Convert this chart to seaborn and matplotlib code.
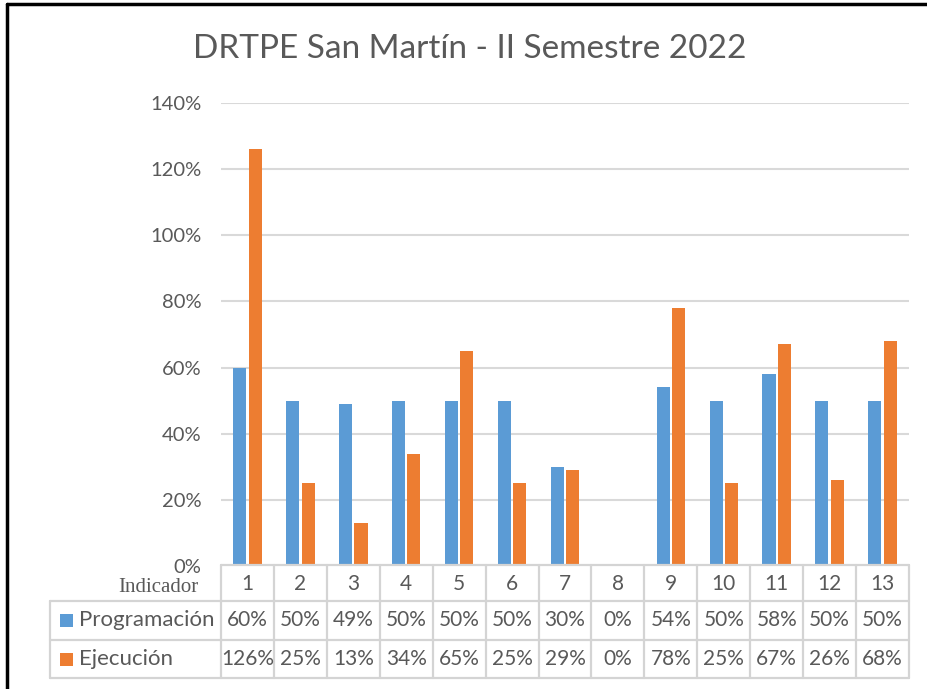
import matplotlib
matplotlib.use("Agg")
import matplotlib.pyplot as plt
import seaborn as sns
import pandas as pd
from matplotlib.lines import Line2D
from matplotlib.patches import Rectangle

# ---- data ----
categories = ["1", "2", "3", "4", "5", "6", "7", "8", "9", "10", "11", "12", "13"]
programacion = [60, 50, 49, 50, 50, 50, 30, 0, 54, 50, 58, 50, 50]
ejecucion = [126, 25, 13, 34, 65, 25, 29, 0, 78, 25, 67, 26, 68]
series_names = ["Programación", "Ejecución"]
yticks = [0, 20, 40, 60, 80, 100, 120, 140]
title = "DRTPE San Martín - II Semestre 2022"

BLUE = "#5B9BD5"
ORANGE = "#ED7D31"
GRAY_TXT = "#595959"
GRID = "#D9D9D9"
TABLE_LINE = "#D4D4D4"

sns.set_theme(style="white")
plt.rcParams["font.family"] = ["Lato", "DejaVu Sans"]

df = pd.DataFrame({
    "Indicador": categories * 2,
    "Serie": [series_names[0]] * len(categories) + [series_names[1]] * len(categories),
    "Valor": [v / 100 for v in programacion] + [v / 100 for v in ejecucion],
})

W, H = 927, 689
fig = plt.figure(figsize=(W / 100, H / 100), dpi=100)
fig.patch.set_facecolor("white")

ax_left, ax_right, ax_top, ax_bot = 221, 909, 103, 566
ax = fig.add_axes([ax_left / W, 1 - ax_bot / H, (ax_right - ax_left) / W, (ax_bot - ax_top) / H])

sns.barplot(data=df, x="Indicador", y="Valor", hue="Serie", order=categories,
            hue_order=series_names, palette=[BLUE, ORANGE], saturation=1,
            width=0.58, gap=0.15, legend=False, ax=ax, linewidth=0)

ax.set_ylim(0, 1.4)
ax.set_xlim(-0.5, len(categories) - 0.5)
ax.set_yticks([t / 100 for t in yticks])
ax.set_yticklabels([f"{t}%" for t in yticks], color=GRAY_TXT, fontsize=14.5)
ax.tick_params(axis="y", length=0, pad=14)
ax.set_xticks([])
ax.set_xlabel("")
ax.set_ylabel("")
ax.yaxis.grid(True, color=GRID, lw=1.5)
ax.set_axisbelow(True)
for s in ax.spines.values():
    s.set_visible(False)

# title
fig.text(470 / W, 1 - 49 / H, title, ha="center", va="center", fontsize=24, color=GRAY_TXT)

# overlay axes in pixel coords for the data table
ov = fig.add_axes([0, 0, 1, 1], facecolor="none")
ov.set_xlim(0, W)
ov.set_ylim(H, 0)
ov.axis("off")

fig.canvas.draw()
def col_x(v):
    disp = ax.transData.transform((v, 0))
    return disp[0]

bounds = [col_x(i - 0.5) for i in range(len(categories) + 1)]
centers = [col_x(i) for i in range(len(categories))]

y_head_top, y_r1, y_r2, y_r3 = 565, 601, 640, 678
x_tab_left = 50
lw = 1.6
ov.add_line(Line2D([bounds[0], bounds[-1]], [y_head_top, y_head_top], color=TABLE_LINE, lw=lw))
for yy in (y_r1, y_r2, y_r3):
    ov.add_line(Line2D([x_tab_left, bounds[-1]], [yy, yy], color=TABLE_LINE, lw=lw))
ov.add_line(Line2D([x_tab_left, x_tab_left], [y_r1, y_r3], color=TABLE_LINE, lw=lw))
for bx in bounds:
    ov.add_line(Line2D([bx, bx], [y_head_top, y_r3], color=TABLE_LINE, lw=lw))

fs_tab = 15
for cx, cat, p, e in zip(centers, categories, programacion, ejecucion):
    ov.text(cx, (y_head_top + y_r1) / 2 + 1, cat, ha="center", va="center", fontsize=fs_tab, color=GRAY_TXT)
    ov.text(cx, (y_r1 + y_r2) / 2, f"{p}%", ha="center", va="center", fontsize=fs_tab, color=GRAY_TXT)
    ov.text(cx, (y_r2 + y_r3) / 2, f"{e}%", ha="center", va="center", fontsize=fs_tab, color=GRAY_TXT)

ov.text(199, 587, "Indicador", ha="right", va="center", fontsize=15,
        color=GRAY_TXT, family=["Liberation Serif", "DejaVu Serif"])

for (name, col, y0, y1) in ((series_names[0], BLUE, y_r1, y_r2), (series_names[1], ORANGE, y_r2, y_r3)):
    yc = (y0 + y1) / 2
    ov.add_patch(Rectangle((60, yc - 6.5), 13, 13, color=col, lw=0))
    ov.text(79, yc, name, ha="left", va="center", fontsize=16, color=GRAY_TXT)

# black frame (left and top)
ov.add_line(Line2D([7, 7], [4, H], color="black", lw=2.5))
ov.add_line(Line2D([7, W], [4, 4], color="black", lw=2.5))

fig.savefig("out.png", dpi=100)
